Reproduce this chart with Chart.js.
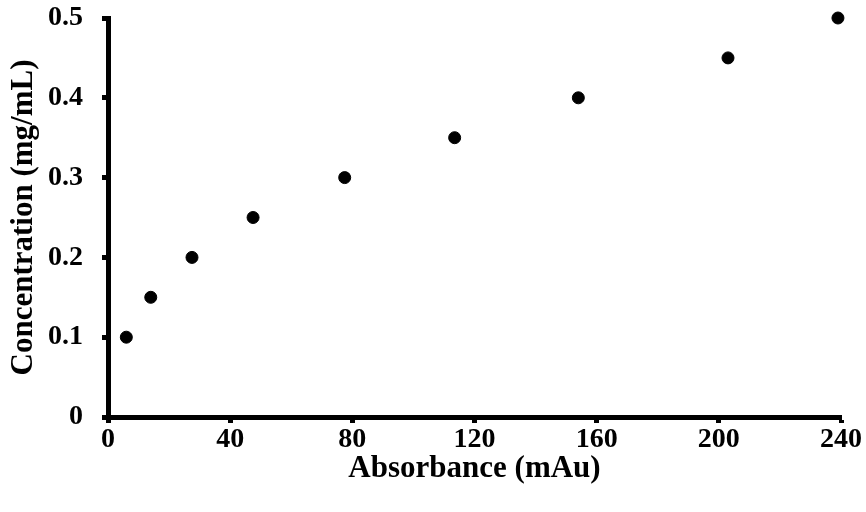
<!DOCTYPE html>
<html>
<head>
<meta charset="utf-8">
<script src="https://cdn.jsdelivr.net/npm/chart.js@4.4.1/dist/chart.umd.min.js"></script>
<style>
  html, body { margin: 0; padding: 0; background: #fff; }
  #wrap { width: 866px; height: 512px; }
</style>
</head>
<body>
<div id="wrap"><canvas id="chart" width="866" height="512"></canvas></div>
<script>
// data
const absorbance = [6, 14, 27.5, 47.5, 77.5, 113.5, 154, 203, 239];
const concentration = [0.1, 0.15, 0.2, 0.25, 0.3, 0.35, 0.4, 0.45, 0.5];
const xTicks = [0, 40, 80, 120, 160, 200, 240];
const yTicks = [0, 0.1, 0.2, 0.3, 0.4, 0.5];

const points = absorbance.map((x, i) => ({ x: x, y: concentration[i] }));

const font = 'Liberation Serif, Times New Roman, serif';

new Chart(document.getElementById('chart'), {
  type: 'scatter',
  data: {
    datasets: [{
      data: points,
      backgroundColor: '#000',
      borderColor: '#000',
      pointRadius: 6,
      pointHoverRadius: 6,
      clip: false
    }]
  },
  options: {
    responsive: false,
    animation: false,
    plugins: { legend: { display: false }, tooltip: { enabled: false } },
    layout: { padding: { top: 18, right: 25, left: 0, bottom: 0 } },
    scales: {
      x: {
        type: 'linear',
        min: xTicks[0],
        max: xTicks[xTicks.length - 1],
        afterBuildTicks: (s) => { s.ticks = xTicks.map(v => ({ value: v })); },
        afterFit: (s) => { s.height = 95; s.paddingLeft = 0; s.paddingRight = 0; },
        border: { display: true, color: '#000', width: 5 },
        grid: { drawOnChartArea: false, drawTicks: true, tickLength: 6, tickWidth: 5, tickColor: '#000' },
        ticks: { color: '#000', font: { family: font, size: 28, weight: 'bold' }, padding: 0, maxRotation: 0 },
        title: { display: true, text: 'Absorbance (mAu)', color: '#000',
                 font: { family: font, size: 31, weight: 'bold' }, padding: { top: 0, bottom: 24 } }
      },
      y: {
        type: 'linear',
        min: yTicks[0],
        max: yTicks[yTicks.length - 1],
        afterBuildTicks: (s) => { s.ticks = yTicks.map(v => ({ value: v })); },
        afterFit: (s) => { s.width = 108; s.paddingTop = 0; s.paddingBottom = 0; },
        border: { display: true, color: '#000', width: 5 },
        grid: { drawOnChartArea: false, drawTicks: true, tickLength: 6, tickWidth: 5, tickColor: '#000' },
        ticks: { color: '#000', font: { family: font, size: 28, weight: 'bold' }, padding: 19 },
        title: { display: true, text: 'Concentration (mg/mL)', color: '#000',
                 font: { family: font, size: 31, weight: 'bold' }, padding: { top: 5, bottom: 0 } }
      }
    }
  }
});
</script>
</body>
</html>
